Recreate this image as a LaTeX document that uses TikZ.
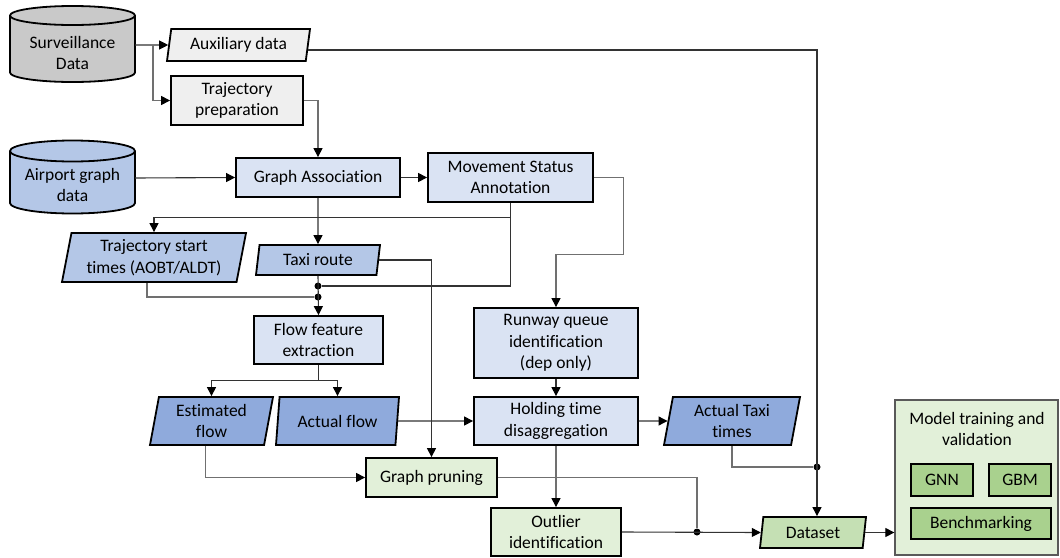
\documentclass[tikz,border=0pt]{standalone}
\usepackage{fontspec}
\setmainfont{Carlito}[Ligatures=NoCommon]
\usetikzlibrary{shapes.geometric,arrows.meta,calc}
\definecolor{cgray}{HTML}{C9C9C9}
\definecolor{cltgray}{HTML}{EFEFEF}
\definecolor{cblue}{HTML}{B4C7E7}
\definecolor{cbox}{HTML}{DAE3F3}
\definecolor{cdblue}{HTML}{8FAADC}
\definecolor{cgreen}{HTML}{E2F0D9}
\definecolor{cmgreen}{HTML}{C5E0B4}
\definecolor{cdgreen}{HTML}{A9D18E}
\definecolor{cdark}{HTML}{333333}
\definecolor{clight}{HTML}{707070}
\definecolor{cmodel}{HTML}{595959}
\tikzset{
  box/.style={draw=black, line width=1.8pt, align=center, inner sep=1pt},
  para/.style={trapezium, trapezium left angle=76, trapezium right angle=104,
    trapezium stretches body, draw=black, line width=1.8pt, align=center, inner sep=1pt},
  con/.style={draw=cdark, line width=1.1pt},
  arr/.style={con, -{Triangle[length=9pt,width=9pt,color=black]}},
  lcon/.style={draw=clight, line width=1.1pt},
  larr/.style={lcon, -{Triangle[length=9pt,width=9pt,color=black]}},
  dot/.style={circle, fill=black, inner sep=0pt, minimum size=7pt},
  txt/.style={align=center, inner sep=0pt},
  cyl/.style={draw=black, line width=1.8pt},
}
\begin{document}
\begin{tikzpicture}[x=1pt, y=-1pt, font=\fontsize{17.5}{21.5}\selectfont]
\useasboundingbox (0,0) rectangle (1060,557);

% cylinders
\filldraw[cyl, fill=cgray] (10,15.5) -- (10,72.5)
  arc[start angle=180, end angle=360, x radius=62.5pt, y radius=9.5pt]
  -- (135,15.5) arc[start angle=0, end angle=180, x radius=62.5pt, y radius=9.5pt] -- cycle;
\draw[cyl] (10,15.5) arc[start angle=180, end angle=360, x radius=62.5pt, y radius=9.5pt];
\node[txt] (sdt) at (72.5,53) {Surveillance\\Data};
\coordinate (sd) at (135,45);

\filldraw[cyl, fill=cblue] (10,151) -- (10,203)
  arc[start angle=180, end angle=360, x radius=62.5pt, y radius=10.5pt]
  -- (135,151) arc[start angle=0, end angle=180, x radius=62.5pt, y radius=10.5pt] -- cycle;
\draw[cyl] (10,151) arc[start angle=180, end angle=360, x radius=62.5pt, y radius=10.5pt];
\node[txt] (agt) at (72.5,185) {Airport graph\\data};
\coordinate (ag) at (135,178);

% nodes
\node[para, fill=cltgray, minimum width=143pt, minimum height=32pt] (aux) at (238.5,45) {Auxiliary data};
\node[box, fill=cltgray, minimum width=132pt, minimum height=49pt] (tp) at (237,100.5) {Trajectory\\preparation};
\node[box, fill=cbox, minimum width=164pt, minimum height=39pt] (ga) at (318,177.5) {Graph Association};
\node[box, fill=cbox, minimum width=165pt, minimum height=49pt] (msa) at (510.5,177.5) {Movement Status\\Annotation};
\node[para, fill=cblue, minimum width=184pt, minimum height=49pt] (st) at (154,257.5) {Trajectory start\\times (AOBT/ALDT)};
\node[para, fill=cblue, minimum width=124pt, minimum height=30pt] (tr) at (318,260) {Taxi route};
\node[box, fill=cbox, minimum width=129pt, minimum height=48pt] (ffe) at (318.5,340) {Flow feature\\extraction};
\node[para, fill=cdblue, minimum width=123pt, minimum height=48pt] (ef) at (211.5,421) {Estimated\\flow};
\node[para, fill=cdblue, minimum width=123pt, minimum height=48pt] (af) at (337.5,421) {Actual flow};
\node[box, fill=cbox, minimum width=164pt, minimum height=70pt] (rqi) at (556,343) {Runway queue\\identification\\(dep only)};
\node[box, fill=cbox, minimum width=164pt, minimum height=48pt] (htd) at (556,421) {Holding time\\disaggregation};
\node[para, fill=cdblue, minimum width=136pt, minimum height=48pt] (att) at (732,421) {Actual Taxi\\times};
\node[box, fill=cgreen, minimum width=131pt, minimum height=39pt] (gp) at (431.5,477.5) {Graph pruning};
\node[box, fill=cgreen, minimum width=130pt, minimum height=48pt] (oi) at (556,532) {Outlier\\identification};
\node[para, fill=cmgreen, minimum width=106pt, minimum height=31pt] (ds) at (813,532.5) {Dataset};
\node[draw=cmodel, line width=1.3pt, fill=cgreen, minimum width=163pt, minimum height=155pt] (mtv) at (976.5,477.5) {};
\node[txt] (mtvt) at (977,429) {Model training and\\validation};
\node[box, fill=cdgreen, line width=1.4pt, minimum width=62pt, minimum height=32pt] (gnn) at (942,480) {GNN};
\node[box, fill=cdgreen, line width=1.4pt, minimum width=62pt, minimum height=32pt] (gbm) at (1020,480) {GBM};
\node[box, fill=cdgreen, line width=1.4pt, minimum width=140pt, minimum height=31pt] (bm) at (981,523.5) {Benchmarking};

% junction dots
\node[dot] (d1) at (318,286) {};
\node[dot] (d2) at (318,297) {};
\node[dot] (d3) at (817,467) {};
\node[dot] (d4) at (697,532) {};
\coordinate (j1) at (153,45);

% connectors
\draw[arr] (sd) -- (aux.west);
\draw[larr] (j1) |- (tp.west);
\draw[arr] ($(aux.east)+(-1,5)$) -| ($(ds.north)+(4,0)$);
\draw[larr] (tp.east) -| (ga.north);
\draw[arr] (ag) -- (ga.west);
\draw[arr] (ga.east) -- (msa.west);
\draw[larr] (msa.east) -- ++(30,0) |- ($(rqi.north)+(0,-53)$) -- (rqi.north);
\draw[arr] (msa.south) -- ++(0,15) -| (st.north);
\draw[con] (msa.south) |- (d1);
\draw[arr] (ga.south) -- (tr.north);
\draw[lcon] ($(st.south)+(-7,0)$) |- (d2);
\draw[arr] (tr.south) -- (ffe.north);
\draw[arr] (tr.east) -| (gp.north);
\draw[arr] (ffe.south) -- ++(0,16) -| (ef.north);
\draw[arr] (ffe.south) -- ++(0,16) -| (af.north);
\draw[arr] (af.east) -- (htd.west);
\draw[arr] (rqi.south) -- (htd.north);
\draw[arr] (htd.east) -- (att.west);
\draw[lcon] (att.south) |- (d3);
\draw[larr] (htd.south) -- (oi.north);
\draw[larr] ($(ef.south)+(-6,0)$) |- (gp.west);
\draw[lcon] (gp.east) -| (d4);
\draw[arr] (oi.east) -- (ds.west);
\draw[arr] (ds.east) -- (ds.east -| mtv.west);
\end{tikzpicture}
\end{document}
